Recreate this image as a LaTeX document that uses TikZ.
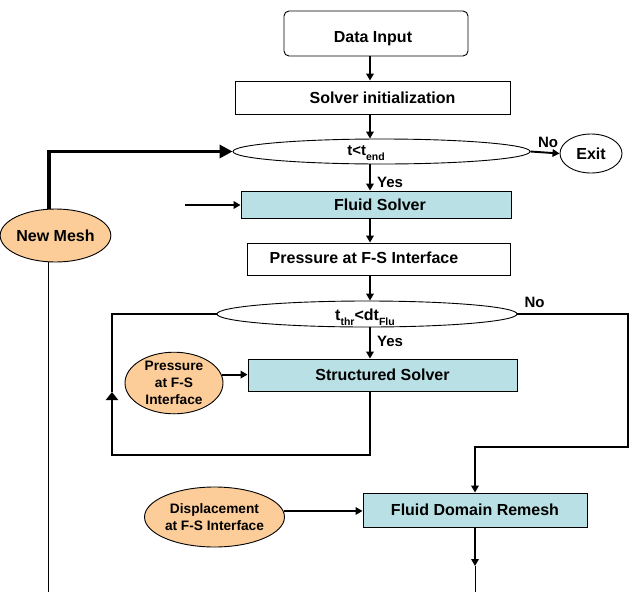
\documentclass[tikz,border=0pt]{standalone}
\usepackage{fontspec}
\setmainfont{Liberation Sans}
\usetikzlibrary{shapes.geometric,arrows.meta}
\definecolor{cyanbox}{RGB}{185,224,228}
\definecolor{orangeell}{RGB}{252,204,153}
\newcommand{\lowsub}[1]{\raisebox{-0.3em}{\fontsize{10.5}{12}\selectfont #1}}
\begin{document}
\begin{tikzpicture}[x=1pt,y=-1pt,
  mainfont/.style={font=\fontsize{16}{19}\selectfont\bfseries},
  box/.style={draw=black, line width=0.9pt, rectangle, inner sep=0pt},
  cbox/.style={box, fill=cyanbox, mainfont},
  oval/.style={draw=black, line width=0.9pt, ellipse, inner sep=0pt},
  oell/.style={oval, fill=orangeell, align=center, font=\fontsize{13.7}{17}\selectfont\bfseries},
  lbl/.style={mainfont, inner sep=0pt},
  yn/.style={font=\fontsize{15}{18}\selectfont\bfseries, inner sep=0pt},
  arr/.style={line width=1.9pt, -{Triangle[length=7pt,width=7.5pt]}},
  thickarr/.style={line width=3.4pt, -{Triangle[length=13pt,width=13pt]}},
  loopline/.style={line width=2.5pt},
  looparr/.style={loopline, -{Triangle[length=8pt,width=12pt]}},
  thinline/.style={line width=1pt}]
\useasboundingbox (0,0) rectangle (634,592);
\coordinate (spine) at (370,0);
% nodes
\node[box, rounded corners=5pt, minimum width=184pt, minimum height=45pt] (di) at (376,33.5) {};
\node[lbl] (tdi) at (373,39) {Data Input};
\node[box, minimum width=275pt, minimum height=33pt] (si) at (372.5,97.5) {};
\node[lbl] (tsi) at (382.5,97.5) {Solver initialization};
\node[oval, minimum width=297pt, minimum height=25pt] (tend) at (381.5,151.5) {};
\node[font=\fontsize{15}{18}\selectfont\bfseries, inner sep=0pt] (ttend) at (366,153) {t<t\lowsub{end}};
\node[oval, mainfont, minimum width=62pt, minimum height=39pt] (exit) at (591,153.5) {Exit};
\node[cbox, minimum width=270pt, minimum height=27pt] (fs) at (376,204.5) {};
\node[lbl] (tfs) at (380,205) {Fluid Solver};
\node[box, minimum width=263pt, minimum height=32pt] (pfs) at (378.5,259) {};
\node[lbl] (tpfs) at (364,258) {Pressure at F-S Interface};
\node[oval, minimum width=300pt, minimum height=26pt] (tthr) at (367,314) {};
\node[lbl] (ttthr) at (365,317) {t\lowsub{thr}<dt\lowsub{Flu}};
\node[cbox, minimum width=269pt, minimum height=32pt] (ss) at (382.5,375) {Structured Solver};
\node[oell, minimum width=98pt, minimum height=56pt] (pe) at (174,383) {Pressure\\at F-S\\Interface};
\node[oell, minimum width=125pt, minimum height=60pt] (de) at (214.5,517) {Displacement\\at F-S Interface};
\node[cbox, minimum width=224pt, minimum height=34pt] (fdr) at (475,510) {Fluid Domain Remesh};
\node[oell, mainfont, minimum width=87pt, minimum height=53pt] (nm) at (55.5,235.5) {New Mesh};
% free-end coordinates
\coordinate (fsin) at (185,205);
\coordinate (lb) at (112,455);
\coordinate (la) at (112,392);
\coordinate (nr) at (628,447);
\coordinate (nmb) at (45,592);
\coordinate (fb1) at (475,566);
\coordinate (fb2) at (475,592);
% labels
\node[yn, anchor=west] (yes1) at (377,182) {Yes};
\node[yn, anchor=west] (yes2) at (377,341) {Yes};
\node[yn] (no1) at (548,142) {No};
\node[yn] (no2) at (534.5,302.5) {No};
% connectors
\draw[arr] (di.south -| spine) -- (si.north -| spine);
\draw[arr] (si.south -| spine) -- (tend.north -| spine);
\draw[arr] (tend.south -| spine) -- (fs.north -| spine);
\draw[arr] (tend.east) -- (exit.west);
\draw[arr] (fsin) -- (fsin -| fs.west);
\draw[thickarr] (nm.104) |- (tend.west);
\draw[thinline] (nm.256) -- (nm.256 |- nmb);
\draw[arr] (fs.south -| spine) -- (pfs.north -| spine);
\draw[arr] (pfs.south -| spine) -- (tthr.north -| spine);
\draw[arr] (tthr.south -| spine) -- (ss.north -| spine);
\draw[arr] (pe.10) -- (pe.10 -| ss.west);
\draw[looparr] (ss.south -| spine) |- (lb) -- (la);
\draw[loopline] (la) |- (tthr.west);
\draw[arr] (tthr.east) -| (nr) -| (fdr.north);
\draw[arr] (de.5) -- (de.5 -| fdr.west);
\draw[arr] (fdr.south) -- (fb1);
\draw[thinline] (fb1) -- (fb2);
\end{tikzpicture}
\end{document}
